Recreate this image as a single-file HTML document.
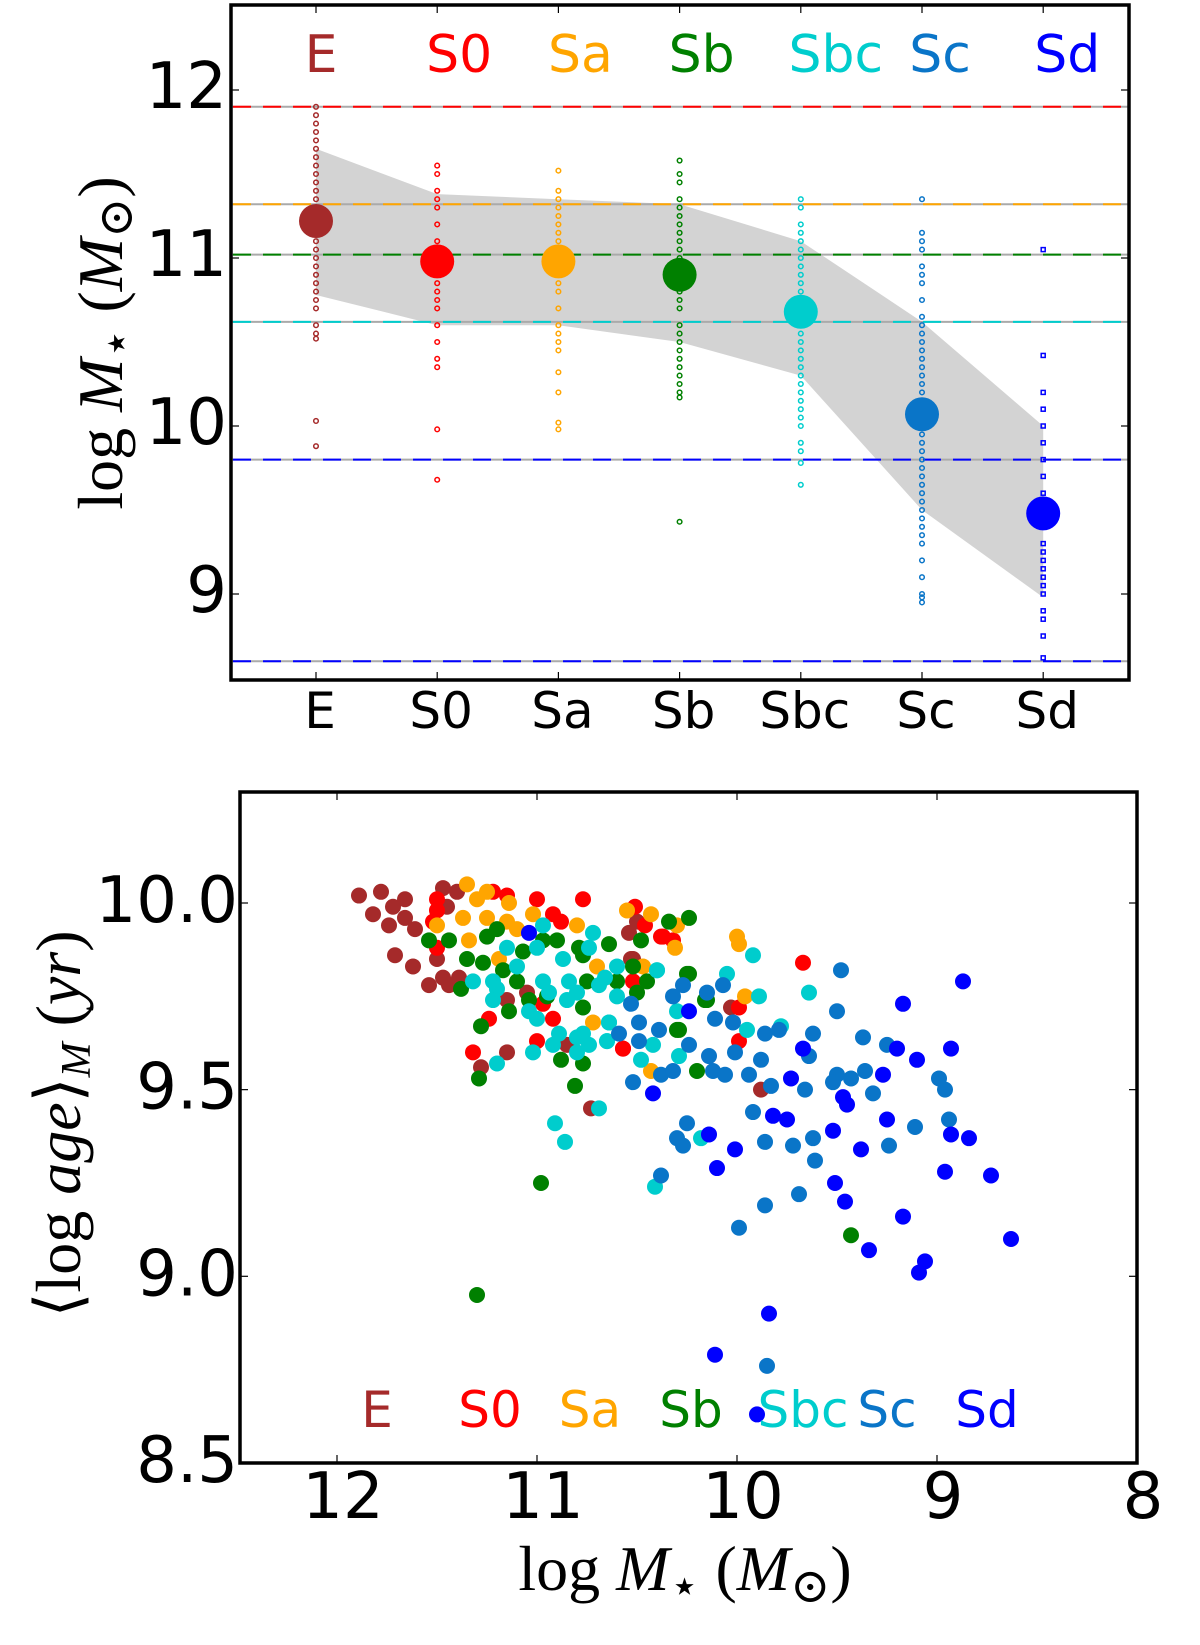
<!DOCTYPE html>
<html><head><meta charset="utf-8"><style>
html,body{margin:0;padding:0;background:#fff;}
svg{display:block;}
text{font-family:"DejaVu Sans","Liberation Sans",sans-serif;}
.serif{font-family:"Liberation Serif","DejaVu Serif",serif;}
</style></head><body>
<svg id="fig" width="1200" height="1645" viewBox="0 0 1200 1645" xmlns="http://www.w3.org/2000/svg">
<g id="topPanel"></g>
<g id="botPanel"></g>
<text class="serif" transform="translate(122,343) rotate(-90)" text-anchor="middle" font-size="64">log <tspan font-style="italic">M</tspan><tspan font-size="48" dy="10">⋆</tspan><tspan dy="-10"> (</tspan><tspan font-style="italic">M</tspan><tspan font-size="48" dy="10">⊙</tspan><tspan dy="-10">)</tspan></text>
<text class="serif" transform="translate(80,1124) rotate(-90)" text-anchor="middle" font-size="64">⟨log <tspan font-style="italic">age</tspan>⟩<tspan font-style="italic" font-size="42" dy="10">M</tspan><tspan dy="-10">  (</tspan><tspan font-style="italic">yr</tspan>)</text>
<text class="serif" x="685" y="1590" text-anchor="middle" font-size="64">log <tspan font-style="italic">M</tspan><tspan font-size="48" dy="12">⋆</tspan><tspan dy="-12"> (</tspan><tspan font-style="italic">M</tspan><tspan font-size="48" dy="12">⊙</tspan><tspan dy="-12">)</tspan></text>
</svg>
<script>
const NS="http://www.w3.org/2000/svg";
const types=["E","S0","Sa","Sb","Sbc","Sc","Sd"];
const colors=["#a52a2a","#ff0000","#ffa500","#008000","#00cdcd","#0a75c8","#0000ff"];
const meanMass=[11.22,10.98,10.98,10.90,10.68,10.07,9.48];
const bandUpper=[11.65,11.38,11.35,11.32,11.10,10.62,10.00];
const bandLower=[10.78,10.60,10.60,10.50,10.30,9.50,8.98];
const refLines=[11.9,11.32,11.02,10.62,9.8,8.6];
const refLineColors=["#ff0000","#ffa500","#008000","#00cdcd","#0000ff","#0000ff"];
const topYTicks=[9,10,11,12];
const massE=[11.9,11.85,11.8,11.75,11.7,11.65,11.6,11.55,11.5,11.45,11.4,11.35,11.3,11.25,11.2,11.15,11.1,11.05,11.0,10.95,10.9,10.85,10.8,10.75,10.7,10.6,10.55,10.52,10.03,9.88];
const massS0=[11.55,11.5,11.4,11.35,11.3,11.2,11.1,11.05,11.0,10.95,10.9,10.85,10.8,10.75,10.7,10.6,10.5,10.4,10.35,9.98,9.68];
const massSa=[11.52,11.4,11.35,11.3,11.25,11.2,11.15,11.1,11.05,11.0,10.95,10.9,10.85,10.8,10.7,10.6,10.55,10.5,10.45,10.32,10.2,10.02,9.98];
const massSb=[11.58,11.5,11.45,11.35,11.3,11.25,11.2,11.15,11.1,11.05,11.0,10.95,10.9,10.85,10.8,10.75,10.7,10.6,10.55,10.5,10.45,10.4,10.35,10.3,10.25,10.2,10.17,9.43];
const massSbc=[11.35,11.3,11.2,11.15,11.1,11.05,11.0,10.95,10.9,10.85,10.8,10.75,10.7,10.65,10.6,10.55,10.5,10.45,10.4,10.35,10.3,10.25,10.2,10.15,10.1,10.05,10.0,9.9,9.85,9.78,9.65];
const massSc=[11.35,11.15,11.1,11.05,10.95,10.9,10.85,10.75,10.65,10.6,10.55,10.5,10.45,10.4,10.35,10.3,10.25,10.2,10.15,10.1,10.05,10.0,9.95,9.9,9.85,9.8,9.75,9.7,9.65,9.6,9.55,9.5,9.45,9.4,9.35,9.3,9.2,9.1,9.0,8.98,8.95];
const massSd=[11.05,10.42,10.2,10.1,10.0,9.9,9.8,9.7,9.6,9.5,9.45,9.4,9.3,9.25,9.2,9.15,9.1,9.05,9.0,8.9,8.85,8.75,8.62];
const massByType=[massE,massS0,massSa,massSb,massSbc,massSc,massSd];

const ageE=[[11.89,10.02],[11.78,10.03],[11.72,9.99],[11.66,10.01],[11.82,9.97],[11.74,9.94],[11.66,9.96],[11.61,9.93],[11.47,10.04],[11.40,10.03],[11.45,9.99],[11.71,9.86],[11.62,9.83],[11.50,9.85],[11.54,9.78],[11.47,9.80],[11.44,9.78],[11.39,9.80],[11.05,9.76],[11.15,9.60],[11.28,9.56],[10.73,9.45],[10.53,9.85],[10.54,9.92],[10.50,9.95],[10.85,9.62],[11.15,9.74],[10.52,9.85],[10.03,9.72],[9.88,9.50]];
const ageS0=[[11.50,10.01],[11.50,9.98],[11.52,9.95],[11.22,10.03],[11.15,10.02],[11.0,10.01],[10.77,10.01],[10.92,9.97],[10.88,9.95],[10.51,9.99],[10.46,9.94],[10.38,9.91],[10.32,9.90],[11.50,9.88],[11.32,9.60],[11.24,9.69],[10.92,9.69],[11.0,9.63],[10.57,9.61],[10.97,9.73],[10.52,9.79],[9.67,9.84],[9.99,9.63],[9.99,9.72],[10.37,9.91],[10.57,9.61]];
const ageSa=[[11.35,10.05],[11.25,10.03],[11.30,10.01],[11.14,10.0],[11.37,9.96],[11.50,9.94],[11.25,9.96],[11.15,9.95],[11.10,9.93],[11.02,9.97],[10.80,9.94],[10.55,9.98],[10.43,9.97],[10.31,9.88],[10.30,9.94],[11.34,9.90],[10.72,9.68],[10.70,9.83],[10.47,9.83],[11.19,9.85],[10.0,9.91],[9.99,9.89],[9.96,9.75],[10.43,9.55]];
const ageSb=[[11.54,9.90],[11.44,9.90],[11.35,9.85],[11.25,9.91],[11.20,9.93],[11.27,9.84],[11.17,9.82],[11.10,9.79],[11.07,9.87],[10.97,9.90],[10.90,9.90],[10.79,9.88],[10.64,9.89],[10.77,9.86],[10.75,9.79],[10.52,9.83],[10.48,9.90],[10.34,9.95],[10.24,9.96],[10.24,9.81],[10.60,9.79],[10.45,9.79],[10.50,9.76],[10.15,9.74],[11.38,9.77],[11.14,9.71],[11.04,9.74],[10.95,9.75],[10.77,9.72],[11.28,9.67],[11.29,9.53],[10.88,9.58],[10.77,9.57],[10.81,9.51],[10.30,9.66],[10.20,9.55],[10.98,9.25],[11.30,8.95],[9.43,9.11],[10.25,9.81],[10.29,9.66],[10.16,9.74]];
const ageSbc=[[9.92,9.86],[9.64,9.76],[10.05,9.81],[9.89,9.75],[9.78,9.67],[9.95,9.66],[10.41,9.24],[10.18,9.37],[10.48,9.58],[10.42,9.62],[10.29,9.59],[10.40,9.82],[10.64,9.68],[10.65,9.63],[10.97,9.94],[10.72,9.92],[10.74,9.88],[11.0,9.88],[11.15,9.88],[11.10,9.83],[10.87,9.85],[10.60,9.83],[10.66,9.80],[10.40,9.82],[11.22,9.79],[11.20,9.77],[11.22,9.74],[10.97,9.79],[10.94,9.76],[10.84,9.79],[10.80,9.76],[10.85,9.74],[10.69,9.78],[10.60,9.75],[11.04,9.71],[11.0,9.69],[10.89,9.65],[10.80,9.64],[10.77,9.65],[10.92,9.62],[10.74,9.62],[10.64,9.68],[10.65,9.63],[10.80,9.60],[11.02,9.60],[11.20,9.57],[10.30,9.71],[10.91,9.41],[10.86,9.36],[10.69,9.45],[11.32,9.79]];
const ageSc=[[9.48,9.82],[9.50,9.71],[9.62,9.65],[9.37,9.64],[9.25,9.62],[9.64,9.59],[8.99,9.53],[8.96,9.50],[9.50,9.54],[9.43,9.53],[9.36,9.55],[9.52,9.52],[9.66,9.50],[9.32,9.49],[9.83,9.51],[9.92,9.44],[9.11,9.40],[8.94,9.42],[9.24,9.35],[9.62,9.37],[9.72,9.35],[9.86,9.36],[9.61,9.31],[10.25,9.41],[10.30,9.37],[10.27,9.35],[10.38,9.27],[9.69,9.22],[9.86,9.19],[9.99,9.13],[9.85,8.76],[10.49,9.68],[10.39,9.66],[10.49,9.63],[10.27,9.78],[10.15,9.76],[10.07,9.78],[10.11,9.69],[10.02,9.68],[10.24,9.62],[10.01,9.60],[10.14,9.59],[10.12,9.55],[10.06,9.54],[9.94,9.54],[9.88,9.58],[9.86,9.65],[9.79,9.66],[10.38,9.54],[10.32,9.55],[10.52,9.52],[10.59,9.65],[10.53,9.73],[10.32,9.75]];
const ageSd=[[8.87,9.79],[9.17,9.73],[8.93,9.61],[9.20,9.61],[9.10,9.58],[9.67,9.61],[9.27,9.54],[9.73,9.53],[9.47,9.48],[9.45,9.46],[10.42,9.49],[10.24,9.71],[9.82,9.43],[9.75,9.42],[9.25,9.42],[9.52,9.39],[8.93,9.38],[8.84,9.37],[10.14,9.38],[10.01,9.34],[9.38,9.34],[10.10,9.29],[8.96,9.28],[8.73,9.27],[9.51,9.25],[9.46,9.20],[9.17,9.16],[8.63,9.10],[9.34,9.07],[9.06,9.04],[9.09,9.01],[9.84,8.90],[10.11,8.79],[11.04,9.92],[9.90,8.63]];
const ageByType=[ageE,ageS0,ageSa,ageSb,ageSbc,ageSc,ageSd];
const botXTicks=[12,11,10,9,8];
const botYTicks=[8.5,9.0,9.5,10.0];
const botYTickLabels=["8.5","9.0","9.5","10.0"];

function mk(tag,attrs,parent){const e=document.createElementNS(NS,tag);for(const k in attrs)e.setAttribute(k,attrs[k]);parent.appendChild(e);return e;}

// ---------- TOP PANEL ----------
const T={l:231,r:1129,t:5,b:680};
const tx=i=>316+i*121.2;
const ty=v=>90+(12-v)*168;
const topG=document.getElementById('topPanel');
let pts=[];
types.forEach((t,i)=>pts.push(tx(i)+','+ty(bandUpper[i])));
for(let i=types.length-1;i>=0;i--)pts.push(tx(i)+','+ty(bandLower[i]));
const band=mk('polygon',{points:pts.join(' '),fill:'#d3d3d3'},topG);


refLines.forEach((v,i)=>{
  const g=mk('g',{},topG);
  
  
  mk('line',{x1:T.l,x2:T.r,y1:ty(v),y2:ty(v),stroke:'#aaaaaa','stroke-width':2},g);
  mk('line',{x1:T.l+2,x2:T.r,y1:ty(v),y2:ty(v),stroke:refLineColors[i],'stroke-width':2,'stroke-dasharray':'18 12'},g);
});
massByType.forEach((arr,i)=>{
  const g=mk('g',{},topG);
  
  
  arr.forEach(v=>{
    let m;
    if(i===6) m=mk('rect',{x:tx(i)-2,y:ty(v)-2,width:4,height:4,fill:'none',stroke:colors[i],'stroke-width':1.5},g);
    else m=mk('circle',{cx:tx(i),cy:ty(v),r:2.3,fill:'none',stroke:colors[i],'stroke-width':1.5},g);
    
    
  });
  const big=mk('circle',{cx:tx(i),cy:ty(meanMass[i]),r:17,fill:colors[i]},g);
  
  
  const lab=mk('text',{x:tx(i)+[5,22,22,22,35,18,24][i],y:72,'text-anchor':'middle','font-size':52,fill:colors[i]},topG);
  lab.textContent=types[i];
  
  
  const xl=mk('text',{x:tx(i)+4,y:728,'text-anchor':'middle','font-size':50,fill:'#000'},topG);
  xl.textContent=types[i];
  
  
  mk('line',{x1:tx(i),x2:tx(i),y1:T.b,y2:T.b-8,stroke:'#000','stroke-width':1.2},topG);
  mk('line',{x1:tx(i),x2:tx(i),y1:T.t,y2:T.t+8,stroke:'#000','stroke-width':1.2},topG);
});
topYTicks.forEach(v=>{
  mk('line',{x1:T.l,x2:T.l+8,y1:ty(v),y2:ty(v),stroke:'#000','stroke-width':1.2},topG);
  mk('line',{x1:T.r,x2:T.r-8,y1:ty(v),y2:ty(v),stroke:'#000','stroke-width':1.2},topG);
  const l=mk('text',{x:T.l-4,y:ty(v)+18,'text-anchor':'end','font-size':64,fill:'#000'},topG);
  l.textContent=v;
  
  
});
const tf=mk('rect',{x:T.l,y:T.t,width:T.r-T.l,height:T.b-T.t,fill:'none',stroke:'#000','stroke-width':3.5},topG);



// ---------- BOTTOM PANEL ----------
const B={l:240,r:1137,t:792,b:1463};
const bx=v=>337+(12-v)*200;
const by=v=>903+(10-v)*373.3;
const botG=document.getElementById('botPanel');
ageByType.forEach((arr,i)=>{
  const g=mk('g',{},botG);
  
  
  arr.forEach(p=>{
    const c=mk('circle',{cx:bx(p[0]),cy:by(p[1]),r:8,fill:colors[i]},g);
    
    
  });
});
const botLabX=[377,490,590,691,803,887,987];
types.forEach((t,i)=>{
  const l=mk('text',{x:botLabX[i],y:1427,'text-anchor':'middle','font-size':50,fill:colors[i]},botG);
  l.textContent=t;
  
  
});
botXTicks.forEach(v=>{
  mk('line',{x1:bx(v),x2:bx(v),y1:B.b,y2:B.b-8,stroke:'#000','stroke-width':1.2},botG);
  mk('line',{x1:bx(v),x2:bx(v),y1:B.t,y2:B.t+8,stroke:'#000','stroke-width':1.2},botG);
  const l=mk('text',{x:bx(v)+6,y:1518,'text-anchor':'middle','font-size':64,fill:'#000'},botG);
  l.textContent=v;
  
  
});
botYTicks.forEach((v,i)=>{
  mk('line',{x1:B.l,x2:B.l+8,y1:by(v),y2:by(v),stroke:'#000','stroke-width':1.2},botG);
  mk('line',{x1:B.r,x2:B.r-8,y1:by(v),y2:by(v),stroke:'#000','stroke-width':1.2},botG);
  const l=mk('text',{x:B.l-2,y:by(v)+19,'text-anchor':'end','font-size':64,fill:'#000'},botG);
  l.textContent=botYTickLabels[i];
  
  
});
const bf=mk('rect',{x:B.l,y:B.t,width:B.r-B.l,height:B.b-B.t,fill:'none',stroke:'#000','stroke-width':3.5},botG);


</script>
</body></html>
